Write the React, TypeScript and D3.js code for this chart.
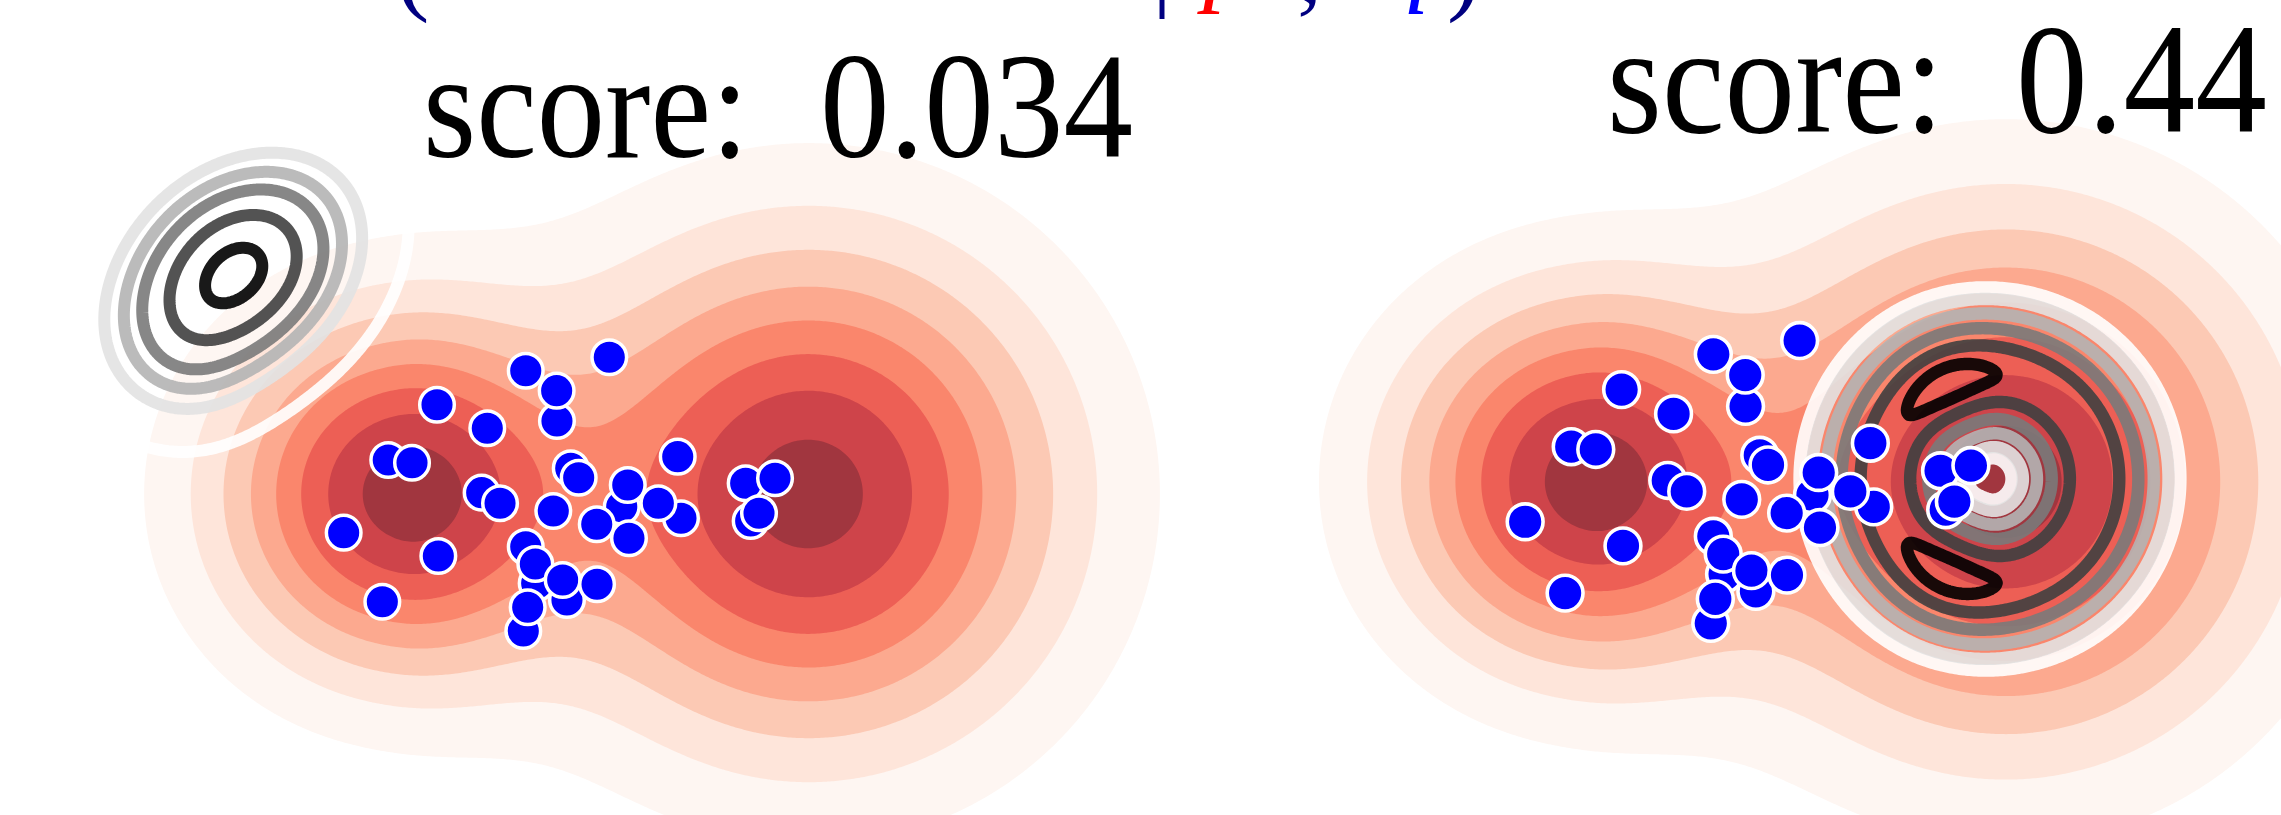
import React, { useMemo } from 'react';
import * as d3 from 'd3';

const WIDTH = 2281;
const HEIGHT = 815;

// ---- target density p (red filled contours): two Gaussian components (data units)
const pCompX = [-2, 2];
const pCompY = [0, 0];
const pCompSigmaWest = [1.23, 1.667];
const pCompSigmaEast = [1.08, 1.667];
const pCompSigmaY = [1.2, 1.667];
const pCompAmp = [8.1, 8.41];
const pLevels = [1, 2, 3, 4, 5, 6, 7, 8];
const pColors = ['#fef6f2', '#fee5da', '#fcc9b4', '#fca98f', '#fa866c', '#ed5f55', '#ce444a', '#a1363f'];

// ---- samples (blue points), data units
const sampleX = [0.042, -0.777, -0.471, -0.474, -1.647, -1.154, -2.125, -1.892, 0.713, -0.336, -0.258, -1.209, -1.029, -0.507, 0.164, 0.223, 0.745, 0.523, -0.081, 0.235, 1.379, 1.667, 1.428, 1.51, -2.562, -1.634, -0.777, -0.67, -0.683, -0.373, -0.415, -0.078, -0.801, -0.758, -2.183];
const sampleY = [1.34, 1.209, 0.716, 1.013, 0.875, 0.644, 0.333, 0.307, 0.366, 0.252, 0.16, 0.013, -0.091, -0.167, -0.125, 0.088, -0.238, -0.091, -0.297, -0.434, 0.105, 0.154, -0.265, -0.189, -0.379, -0.608, -0.517, -0.875, -0.686, -1.039, -0.843, -0.885, -1.343, -1.111, -1.056];

// ---- left panel witness (grey line contours): rotated Gaussian bumps
const wLeftCX = [-3.618, -4.14];
const wLeftCY = [2.17, 1.42];
const wLeftSigmaMajor = [0.647, 0.43];
const wLeftSigmaMinor = [0.48, 0.43];
const wLeftAngle = [40, 0];
const wLeftAmp = [1, 0.13];
const wLeftLevels = [0.015, 0.106, 0.205, 0.34, 0.595, 0.911];

// ---- right panel witness: ring with two lobes
const wRightCX = 1.848;
const wRightCY = 0.027;
const wRightRadius = 0.987;
const wRightWidthIn = 0.42;
const wRightWidthOut = 0.44;
const wRightPeak = 0.963;
const wRightLobeAngle = [114, 246];
const wRightLobeWidth = 20;
const wRightLobeGain = 0.1;
const wRightLevels = [0.17, 0.265, 0.42, 0.61, 0.83, 1.0];

const scoreText = ['score:', 'score:'];
const scoreValue = ['0.034', '0.44'];

// grid
const GX0 = -6.3, GX1 = 6.3, GY0 = -3.8, GY1 = 5.2, STEP = 0.02;

function pDensity(x: number, y: number) {
  let s = 0;
  for (let i = 0; i < pCompX.length; i++) {
    const dx = x - pCompX[i];
    const dy = y - pCompY[i];
    const sx = dx < 0 ? pCompSigmaWest[i] : pCompSigmaEast[i];
    const sy = pCompSigmaY[i];
    s += pCompAmp[i] * Math.exp(-0.5 * (dx * dx / (sx * sx) + dy * dy / (sy * sy)));
  }
  return s;
}

function wLeft(x: number, y: number) {
  let s = 0;
  for (let i = 0; i < wLeftCX.length; i++) {
    const a = (wLeftAngle[i] * Math.PI) / 180;
    const dx = x - wLeftCX[i];
    const dy = y - wLeftCY[i];
    const u = dx * Math.cos(a) + dy * Math.sin(a);
    const v = -dx * Math.sin(a) + dy * Math.cos(a);
    s += wLeftAmp[i] * Math.exp(-0.5 * (u * u / (wLeftSigmaMajor[i] ** 2) + v * v / (wLeftSigmaMinor[i] ** 2)));
  }
  return s;
}

function wRight(x: number, y: number) {
  const dx = x - wRightCX;
  const dy = y - wRightCY;
  const r = Math.hypot(dx, dy);
  let th = (Math.atan2(dy, dx) * 180) / Math.PI;
  if (th < 0) th += 360;
  const w = r < wRightRadius ? wRightWidthIn : wRightWidthOut;
  const ridge = wRightPeak * Math.exp(-0.5 * ((r - wRightRadius) / w) ** 2);
  let lobes = 0;
  for (const c of wRightLobeAngle) {
    let d = Math.abs(th - c);
    if (d > 180) d = 360 - d;
    lobes += Math.exp(-0.5 * (d / wRightLobeWidth) ** 2);
  }
  return ridge * (1 + wRightLobeGain * lobes);
}

function grid(f: (x: number, y: number) => number) {
  const nx = Math.round((GX1 - GX0) / STEP) + 1;
  const ny = Math.round((GY1 - GY0) / STEP) + 1;
  const values = new Float64Array(nx * ny);
  for (let j = 0; j < ny; j++) {
    const y = GY1 - j * STEP;
    for (let i = 0; i < nx; i++) {
      values[j * nx + i] = f(GX0 + i * STEP, y);
    }
  }
  return { nx, ny, values };
}

type Panel = {
  xs: d3.ScaleLinear<number, number>;
  ys: d3.ScaleLinear<number, number>;
  witness: (x: number, y: number) => number;
  levels: number[];
  lineWidth: number;
  markerR: number;
  markerStroke: number;
};

const panels: Panel[] = [
  {
    xs: d3.scaleLinear().domain([-6, 6]).range([605 - 612, 605 + 612]),
    ys: d3.scaleLinear().domain([-4, 5]).range([494 + 408, 494 - 510]),
    witness: wLeft,
    levels: wLeftLevels,
    lineWidth: 12,
    markerR: 17.3,
    markerStroke: 3.5,
  },
  {
    xs: d3.scaleLinear().domain([-6, 6]).range([1795.2 - 632.4, 1795.2 + 632.4]),
    ys: d3.scaleLinear().domain([-4, 5]).range([481.8 + 421.6, 481.8 - 527]),
    witness: wRight,
    levels: wRightLevels,
    lineWidth: 12.4,
    markerR: 17.9,
    markerStroke: 3.6,
  },
];

function buildPanel(p: Panel) {
  const projection = d3.geoTransform({
    point(this: any, gx: number, gy: number) {
      const x = GX0 + (gx - 0.5) * STEP;
      const y = GY1 - (gy - 0.5) * STEP;
      this.stream.point(p.xs(x), p.ys(y));
    },
  });
  const path = d3.geoPath(projection);
  const pg = grid(pDensity);
  const pCont = d3.contours().size([pg.nx, pg.ny]).thresholds(pLevels)(Array.from(pg.values));
  const wg = grid(p.witness);
  const wCont = d3.contours().size([wg.nx, wg.ny]).thresholds(p.levels)(Array.from(wg.values));
  return {
    red: pCont.map((c, i) => ({ d: path(c as any) || '', color: pColors[i] })),
    grey: wCont.map((c, i) => ({ d: path(c as any) || '', color: d3.interpolateGreys(i / (p.levels.length - 1)) })),
  };
}

export default function App() {
  const built = useMemo(() => panels.map(buildPanel), []);
  return (
    <svg width={WIDTH} height={HEIGHT} style={{ position: 'absolute', left: 0, top: 0, background: '#fff' }}>
      <rect width={WIDTH} height={HEIGHT} fill="#ffffff" />
      {built.map((b, pi) => {
        const p = panels[pi];
        return (
          <g key={pi}>
            {b.red.map((r, i) => (
              <path key={'r' + i} d={r.d} fill={r.color} stroke="none" />
            ))}
            {b.grey.map((g, i) => (
              <path key={'g' + i} d={g.d} fill="none" stroke={g.color} strokeOpacity={0.9} strokeWidth={p.lineWidth} strokeLinejoin="round" />
            ))}
            {sampleX.map((x, i) => (
              <circle key={'c' + i} cx={p.xs(x)} cy={p.ys(sampleY[i])} r={p.markerR} fill="#0000ff" stroke="#ffffff" strokeWidth={p.markerStroke} />
            ))}
          </g>
        );
      })}
      <g fontFamily="'Liberation Serif', 'Times New Roman', serif" fill="#000">
        <text x={423} y={157} fontSize={151} textLength={326} lengthAdjust="spacingAndGlyphs">{scoreText[0]}</text>
        <text x={820} y={157} fontSize={151} textLength={313} lengthAdjust="spacingAndGlyphs">{scoreValue[0]}</text>
        <text x={1607} y={132} fontSize={156} textLength={337} lengthAdjust="spacingAndGlyphs">{scoreText[1]}</text>
        <text x={2016} y={132} fontSize={156} textLength={251} lengthAdjust="spacingAndGlyphs">{scoreValue[1]}</text>
      </g>
      <g fontFamily="'Liberation Serif', 'Times New Roman', serif" fontSize={100}>
        <text x={396} y={2} fill="#000080">(</text>
        <text x={1152} y={-2} fill="#000080">|</text>
        <text x={1203} y={-7} fill="#ff0000" fontStyle="italic">p</text>
        <text x={1297} y={1} fill="#000080">,</text>
        <text x={1381} y={-7} fill="#0000ff" fontStyle="italic">q</text>
        <text x={1447} y={2} fill="#000080">)</text>
      </g>
    </svg>
  );
}
